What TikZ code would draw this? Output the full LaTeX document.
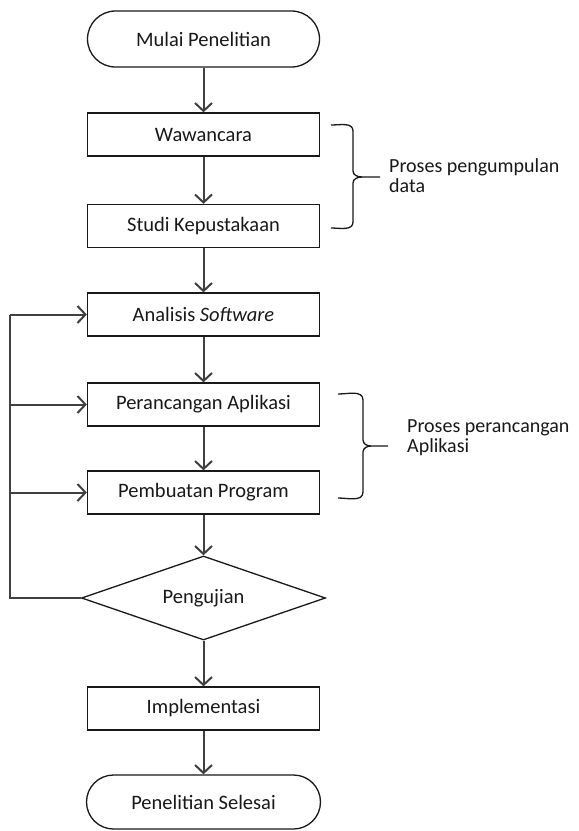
\documentclass[tikz,border=0pt]{standalone}
\usepackage{fontspec}
\setmainfont{Carlito}
\usetikzlibrary{arrows.meta,shapes.geometric}
\begin{document}
\begin{tikzpicture}[x=1pt,y=-1pt,
  every node/.style={font=\fontsize{20.5}{18}\selectfont, text=black!90},
  procbox/.style={draw=black!90, line width=1.3pt, minimum width=232pt, minimum height=43pt, inner sep=0pt},
  termbox/.style={draw=black!90, line width=1.3pt, rounded corners=28pt, minimum width=232pt, minimum height=56pt, inner sep=0pt},
  decbox/.style={draw=black!90, line width=1.3pt, diamond, aspect=2.9, minimum width=244pt, minimum height=84pt, inner sep=0pt},
  flow/.style={draw=black!75, line width=2pt, -{Straight Barb[length=8pt,width=17pt,line width=2pt]}},
  loopline/.style={draw=black!75, line width=2pt},
  bracepath/.style={draw=black!90, line width=1.3pt},
  note/.style={align=left, anchor=north west, inner sep=0pt, font=\fontsize{20}{20.5}\selectfont}
]
\fill[white] (0,0) rectangle (579,831);
\useasboundingbox (0,0) rectangle (579,831);

\node[termbox] (start) at (203.5,39) {Mulai Penelitian};
\node[procbox] (ww) at (203.5,134.5) {Wawancara};
\node[procbox] (sk) at (203.5,226) {Studi Kepustakaan};
\node[procbox] (as) at (203.5,314.5) {Analisis \textit{Software}};
\node[procbox] (pa) at (203.5,404.5) {Perancangan Aplikasi};
\node[procbox] (pp) at (203.5,492.5) {Pembuatan Program};
\node[decbox] (uji) at (203.5,598) {Pengujian};
\node[procbox] (imp) at (203.5,708.5) {Implementasi};
\node[termbox, minimum width=234pt, minimum height=54pt, rounded corners=27pt] (end) at (203.5,802) {Penelitian Selesai};

\draw[flow] (start.south) -- (ww.north);
\draw[flow] (ww.south) -- (sk.north);
\draw[flow] (sk.south) -- (as.north);
\draw[flow] (as.south) -- (pa.north);
\draw[flow] (pa.south) -- (pp.north);
\draw[flow] (pp.south) -- (uji.north);
\draw[flow] (uji.south) -- (imp.north);
\draw[flow] (imp.south) -- (end.north);

\coordinate (lb) at (10,598);
\coordinate (lt) at (10,314.5);
\coordinate (l2) at (10,404.5);
\coordinate (l3) at (10,492.5);
\draw[loopline] (uji.west) -- (lb) -- (lt);
\draw[flow] (lt) -- (as.west);
\draw[flow] (l2) -- (pa.west);
\draw[flow] (l3) -- (pp.west);

% brace 1
\coordinate (b1t) at (331,125);
\coordinate (b1b) at (331,228);
\coordinate (b1m) at (380,177);
\draw[bracepath] (b1t) to[out=0,in=90] (353,131) -- (353,171)
  to[out=-90,in=180] (362,177) -- (b1m);
\draw[bracepath] (362,177) to[out=180,in=90] (353,183) -- (353,222)
  to[out=-90,in=0] (b1b);
\node[note] (n1) at (389,158) {Proses pengumpulan\\data};

% brace 2
\coordinate (b2t) at (338,394);
\coordinate (b2b) at (338,498);
\coordinate (b2m) at (388,446);
\draw[bracepath] (b2t) to[out=0,in=90] (363,400) -- (363,440)
  to[out=-90,in=180] (371,446) -- (b2m);
\draw[bracepath] (371,446) to[out=180,in=90] (363,452) -- (363,492)
  to[out=-90,in=0] (b2b);
\node[note] (n2) at (407,419) {Proses perancangan\\Aplikasi};
\end{tikzpicture}
\end{document}
